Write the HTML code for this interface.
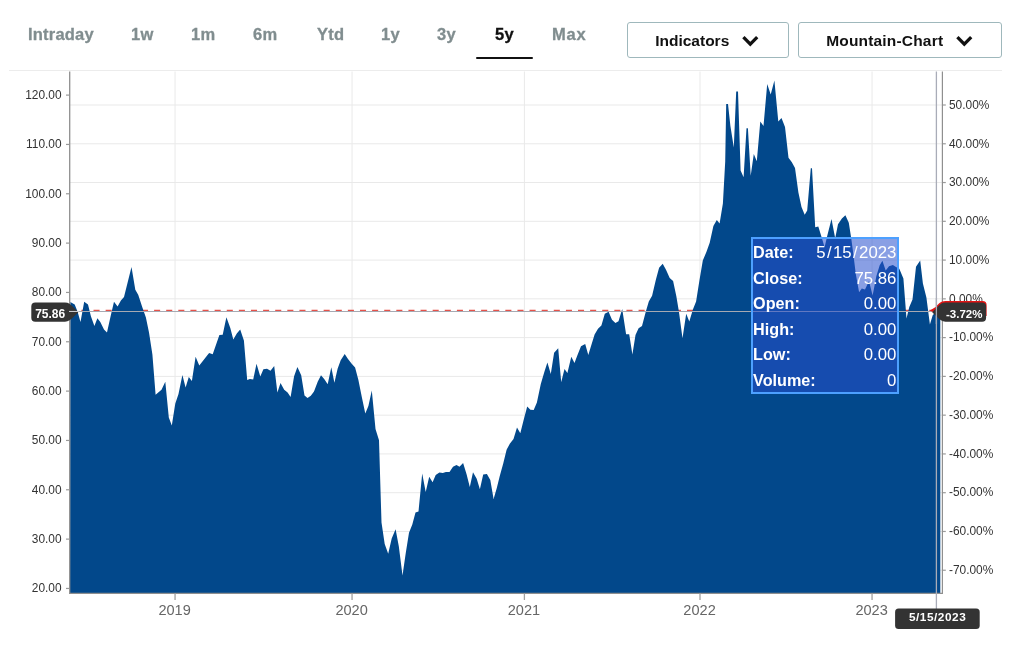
<!DOCTYPE html>
<html><head><meta charset="utf-8"><title>Chart</title>
<style>
html,body{margin:0;padding:0;background:#fff;}
body{width:1023px;height:646px;position:relative;overflow:hidden;-webkit-font-smoothing:antialiased;font-family:"Liberation Sans",sans-serif;}
.tab{position:absolute;top:24px;-webkit-text-stroke:0.3px currentColor;font-weight:bold;font-size:16.5px;color:#808d8f;line-height:20px;white-space:nowrap;letter-spacing:0.2px;}
.tab.act{color:#111;}
.uline{position:absolute;left:476px;top:56.5px;width:57px;height:2.6px;background:#111;border-radius:1.3px;}
.hr{position:absolute;left:8.5px;top:70px;width:993.5px;height:1.4px;background:#ececec;}
.btn{position:absolute;top:22px;height:34px;border:1px solid #9fb8bc;border-radius:3px;box-sizing:content-box;background:#fff;}
.btn span{position:absolute;top:8.5px;font-weight:bold;font-size:15.5px;color:#111;line-height:18px;white-space:nowrap;}
.btn svg{position:absolute;top:11px;}
svg.chart{position:absolute;left:0;top:0;will-change:transform;}
.tab,.btn,.tip{will-change:transform;}
.ax{font-family:"Liberation Sans",sans-serif;font-size:11.9px;fill:#333;}
.yr{font-family:"Liberation Sans",sans-serif;font-size:14.55px;fill:#666;}
.tip{position:absolute;left:750.8px;top:237.3px;width:143.6px;height:151.6px;border:2.4px solid #4da0ff;background:rgba(40,80,205,0.55);color:#fff;font-size:16.2px;line-height:25.5px;padding-top:1.3px;box-sizing:content-box;}
.tip div{position:relative;height:25.5px;}
.tip b{position:absolute;left:0.1px;top:0;}
.tip i{position:absolute;right:0.2px;top:0;font-style:normal;font-size:16.8px;}
.tip i u{text-decoration:none;padding:0 1.4px;}
.lab{position:absolute;background:#333;color:#fff;font-weight:bold;font-size:11px;line-height:19px;text-align:center;border-radius:4px;}
</style></head><body>
<div class="tab" style="left:28px">Intraday</div>
<div class="tab" style="left:131px">1w</div>
<div class="tab" style="left:191px">1m</div>
<div class="tab" style="left:253.3px">6m</div>
<div class="tab" style="left:316.6px">Ytd</div>
<div class="tab" style="left:381.3px">1y</div>
<div class="tab" style="left:437.3px">3y</div>
<div class="tab act" style="left:494.7px">5y</div>
<div class="tab" style="left:552.3px;letter-spacing:0.8px">Max</div>
<div class="uline"></div>
<div class="hr"></div>
<div class="btn" style="left:627px;width:160px;"><span style="left:27.2px">Indicators</span>
<svg style="left:112px" width="22" height="16" viewBox="0 0 22 16"><path d="M3.4 3.2 L10.3 10.1 L17.2 3.2" fill="none" stroke="#111" stroke-width="3.3"/></svg></div>
<div class="btn" style="left:798px;width:202.2px;"><span style="left:27.2px;letter-spacing:0.18px">Mountain-Chart</span>
<svg style="left:155px" width="22" height="16" viewBox="0 0 22 16"><path d="M3.4 3.2 L10.3 10.1 L17.2 3.2" fill="none" stroke="#111" stroke-width="3.3"/></svg></div>
<svg class="chart" width="1023" height="646" viewBox="0 0 1023 646">
<line x1="175.05" y1="71.5" x2="175.05" y2="593" stroke="#e9e9e9" stroke-width="1"/>
<line x1="352.05" y1="71.5" x2="352.05" y2="593" stroke="#e9e9e9" stroke-width="1"/>
<line x1="524.4" y1="71.5" x2="524.4" y2="593" stroke="#e9e9e9" stroke-width="1"/>
<line x1="700.0" y1="71.5" x2="700.0" y2="593" stroke="#e9e9e9" stroke-width="1"/>
<line x1="872.05" y1="71.5" x2="872.05" y2="593" stroke="#e9e9e9" stroke-width="1"/>
<line x1="70" y1="105.00" x2="942" y2="105.00" stroke="#e9e9e9" stroke-width="1"/>
<line x1="70" y1="143.77" x2="942" y2="143.77" stroke="#e9e9e9" stroke-width="1"/>
<line x1="70" y1="182.54" x2="942" y2="182.54" stroke="#e9e9e9" stroke-width="1"/>
<line x1="70" y1="221.31" x2="942" y2="221.31" stroke="#e9e9e9" stroke-width="1"/>
<line x1="70" y1="260.08" x2="942" y2="260.08" stroke="#e9e9e9" stroke-width="1"/>
<line x1="70" y1="298.85" x2="942" y2="298.85" stroke="#e9e9e9" stroke-width="1"/>
<line x1="70" y1="337.62" x2="942" y2="337.62" stroke="#e9e9e9" stroke-width="1"/>
<line x1="70" y1="376.39" x2="942" y2="376.39" stroke="#e9e9e9" stroke-width="1"/>
<line x1="70" y1="415.16" x2="942" y2="415.16" stroke="#e9e9e9" stroke-width="1"/>
<line x1="70" y1="453.93" x2="942" y2="453.93" stroke="#e9e9e9" stroke-width="1"/>
<line x1="70" y1="492.70" x2="942" y2="492.70" stroke="#e9e9e9" stroke-width="1"/>
<line x1="70" y1="531.47" x2="942" y2="531.47" stroke="#e9e9e9" stroke-width="1"/>
<line x1="70" y1="570.24" x2="942" y2="570.24" stroke="#e9e9e9" stroke-width="1"/>
<line x1="69.3" y1="310.35" x2="942" y2="310.35" stroke="#e6524a" stroke-width="1.35" stroke-dasharray="6.056 6.056"/>
<path d="M70,593 L70.3,302.0 L74.7,304.6 L77.6,311.8 L80.5,322.0 L84.2,301.8 L88.0,304.4 L90.9,316.2 L94.4,325.9 L97.4,318.2 L100.3,322.0 L104.0,329.4 L107.0,332.4 L110.6,316.2 L114.0,301.8 L117.6,306.5 L120.9,300.6 L124.0,297.0 L131.5,267.0 L135.3,289.7 L138.2,294.7 L142.4,307.4 L145.9,317.6 L149.0,332.4 L152.4,354.4 L155.6,394.7 L161.5,389.7 L165.3,381.8 L168.8,417.6 L171.8,425.6 L175.3,403.5 L178.5,394.0 L182.4,375.0 L185.6,387.4 L188.8,377.0 L191.9,380.9 L195.6,356.7 L199.3,365.4 L209.1,353.0 L212.7,354.3 L219.4,334.9 L222.7,334.8 L226.4,317.3 L230.3,327.9 L233.3,339.6 L236.8,333.5 L240.2,329.4 L243.9,340.5 L247.2,379.9 L249.9,379.0 L253.2,379.6 L256.5,363.8 L260.3,376.6 L263.4,369.3 L267.0,368.8 L270.5,370.8 L274.2,366.0 L277.4,392.4 L280.5,383.1 L284.2,389.8 L287.6,392.4 L290.6,397.0 L294.1,376.2 L297.4,366.9 L301.2,375.3 L304.5,395.4 L307.5,398.1 L310.8,395.7 L314.0,391.4 L317.7,381.8 L321.0,375.3 L324.2,379.0 L327.7,384.2 L331.3,367.3 L334.4,382.7 L337.6,368.8 L340.7,360.2 L344.7,353.9 L348.0,359.1 L351.7,363.8 L355.1,367.5 L358.4,379.9 L361.9,397.6 L365.3,413.4 L368.4,405.9 L371.8,390.5 L375.5,429.1 L379.0,440.3 L381.5,522.4 L384.7,544.0 L388.2,553.8 L391.7,538.6 L395.6,529.3 L398.8,546.2 L402.5,575.5 L405.8,552.7 L409.0,532.8 L412.3,524.5 L415.5,512.6 L418.5,511.5 L422.2,473.6 L425.7,492.0 L429.2,476.8 L432.6,482.3 L435.7,475.1 L439.4,472.5 L442.8,472.9 L445.9,472.1 L449.5,472.1 L453.0,466.7 L456.5,464.9 L459.5,466.7 L463.1,463.0 L466.5,474.0 L469.8,487.0 L473.0,472.3 L476.7,478.8 L479.9,489.2 L483.2,474.5 L486.9,474.0 L490.3,480.1 L493.6,499.0 L496.8,488.1 L499.7,476.2 L503.3,463.2 L506.6,449.8 L509.8,443.7 L513.5,438.9 L517.0,427.4 L520.3,433.3 L523.7,419.8 L527.2,406.4 L530.4,409.7 L533.7,410.1 L536.9,402.5 L540.8,384.0 L544.4,371.8 L547.4,362.4 L550.8,374.0 L554.1,352.7 L558.2,348.3 L561.2,382.3 L564.5,368.9 L567.4,373.1 L571.3,356.8 L574.5,362.9 L577.6,354.7 L581.0,346.2 L585.2,344.0 L588.3,355.1 L591.2,345.4 L594.6,334.6 L598.0,328.8 L601.4,325.4 L604.8,313.8 L608.6,311.8 L612.0,319.8 L615.4,322.9 L618.5,321.2 L622.2,309.0 L626.1,334.3 L629.2,334.3 L632.4,354.4 L635.5,335.1 L638.6,328.3 L642.0,326.1 L645.7,312.1 L648.8,301.6 L652.1,295.7 L655.8,279.9 L659.1,267.8 L662.7,263.8 L666.0,269.7 L669.7,278.1 L673.1,280.9 L676.3,296.0 L678.9,311.4 L682.5,338.3 L686.2,313.7 L689.3,321.6 L692.9,309.5 L696.1,301.5 L699.5,279.9 L702.8,260.4 L706.4,252.0 L709.7,242.8 L713.4,226.0 L716.8,219.9 L719.6,223.6 L722.9,203.5 L725.2,161.7 L726.2,104.1 L728.0,104.1 L730.4,125.9 L733.8,147.6 L736.2,91.6 L738.0,91.6 L740.6,170.4 L743.6,177.3 L746.5,128.3 L747.9,128.3 L750.7,175.8 L753.8,154.1 L756.8,161.3 L760.3,121.6 L763.5,125.9 L767.2,84.1 L770.7,94.5 L774.4,80.4 L778.3,121.6 L781.5,117.9 L785.0,127.0 L788.5,157.8 L791.7,162.1 L795.0,168.0 L798.4,192.5 L801.5,207.0 L804.7,214.8 L807.2,210.4 L810.8,168.3 L812.0,168.3 L815.2,227.3 L818.3,226.6 L821.7,237.4 L824.6,247.2 L827.2,235.9 L831.5,219.1 L835.2,238.2 L838.0,224.2 L841.9,218.5 L845.4,215.3 L848.8,222.7 L851.3,238.7 L853.1,252.3 L855.8,273.9 L859.1,292.3 L861.8,288.5 L865.0,289.6 L869.0,281.0 L872.6,295.6 L876.4,276.1 L879.7,265.3 L882.4,260.7 L885.7,270.5 L889.0,266.2 L892.9,265.0 L896.0,267.0 L899.3,268.8 L903.4,278.6 L906.5,318.5 L909.3,307.1 L912.5,299.4 L916.0,266.7 L920.2,260.4 L922.9,283.4 L926.4,297.4 L929.9,324.5 L932.7,315.2 L936.5,311.3 L940.3,311.3 L940.3,593 Z" fill="#02488b"/>
<line x1="69.7" y1="71.5" x2="69.7" y2="593.9" stroke="#8f8f8f" stroke-width="1.3"/>
<line x1="942.4" y1="71.5" x2="942.4" y2="593.9" stroke="#8f8f8f" stroke-width="1.2"/>
<line x1="69" y1="593.35" x2="943" y2="593.35" stroke="#8f8f8f" stroke-width="1.1"/>
<line x1="66" y1="95.10" x2="69.2" y2="95.10" stroke="#9a9a9a" stroke-width="1.2"/>
<text x="61.6" y="98.85" text-anchor="end" class="ax">120.00</text>
<line x1="66" y1="144.44" x2="69.2" y2="144.44" stroke="#9a9a9a" stroke-width="1.2"/>
<text x="61.6" y="148.19" text-anchor="end" class="ax">110.00</text>
<line x1="66" y1="193.77" x2="69.2" y2="193.77" stroke="#9a9a9a" stroke-width="1.2"/>
<text x="61.6" y="197.52" text-anchor="end" class="ax">100.00</text>
<line x1="66" y1="243.11" x2="69.2" y2="243.11" stroke="#9a9a9a" stroke-width="1.2"/>
<text x="61.6" y="246.86" text-anchor="end" class="ax">90.00</text>
<line x1="66" y1="292.44" x2="69.2" y2="292.44" stroke="#9a9a9a" stroke-width="1.2"/>
<text x="61.6" y="296.19" text-anchor="end" class="ax">80.00</text>
<line x1="66" y1="341.77" x2="69.2" y2="341.77" stroke="#9a9a9a" stroke-width="1.2"/>
<text x="61.6" y="345.52" text-anchor="end" class="ax">70.00</text>
<line x1="66" y1="391.11" x2="69.2" y2="391.11" stroke="#9a9a9a" stroke-width="1.2"/>
<text x="61.6" y="394.86" text-anchor="end" class="ax">60.00</text>
<line x1="66" y1="440.45" x2="69.2" y2="440.45" stroke="#9a9a9a" stroke-width="1.2"/>
<text x="61.6" y="444.20" text-anchor="end" class="ax">50.00</text>
<line x1="66" y1="489.78" x2="69.2" y2="489.78" stroke="#9a9a9a" stroke-width="1.2"/>
<text x="61.6" y="493.53" text-anchor="end" class="ax">40.00</text>
<line x1="66" y1="539.12" x2="69.2" y2="539.12" stroke="#9a9a9a" stroke-width="1.2"/>
<text x="61.6" y="542.87" text-anchor="end" class="ax">30.00</text>
<line x1="66" y1="588.45" x2="69.2" y2="588.45" stroke="#9a9a9a" stroke-width="1.2"/>
<text x="61.6" y="592.20" text-anchor="end" class="ax">20.00</text>
<line x1="943" y1="105.00" x2="945.8" y2="105.00" stroke="#9a9a9a" stroke-width="1.2"/>
<text x="949.0" y="108.75" class="ax">50.00%</text>
<line x1="943" y1="143.77" x2="945.8" y2="143.77" stroke="#9a9a9a" stroke-width="1.2"/>
<text x="949.0" y="147.52" class="ax">40.00%</text>
<line x1="943" y1="182.54" x2="945.8" y2="182.54" stroke="#9a9a9a" stroke-width="1.2"/>
<text x="949.0" y="186.29" class="ax">30.00%</text>
<line x1="943" y1="221.31" x2="945.8" y2="221.31" stroke="#9a9a9a" stroke-width="1.2"/>
<text x="949.0" y="225.06" class="ax">20.00%</text>
<line x1="943" y1="260.08" x2="945.8" y2="260.08" stroke="#9a9a9a" stroke-width="1.2"/>
<text x="949.0" y="263.83" class="ax">10.00%</text>
<line x1="943" y1="298.85" x2="945.8" y2="298.85" stroke="#9a9a9a" stroke-width="1.2"/>
<text x="949.0" y="302.60" class="ax">0.00%</text>
<line x1="943" y1="337.62" x2="945.8" y2="337.62" stroke="#9a9a9a" stroke-width="1.2"/>
<text x="949.0" y="341.37" class="ax">-10.00%</text>
<line x1="943" y1="376.39" x2="945.8" y2="376.39" stroke="#9a9a9a" stroke-width="1.2"/>
<text x="949.0" y="380.14" class="ax">-20.00%</text>
<line x1="943" y1="415.16" x2="945.8" y2="415.16" stroke="#9a9a9a" stroke-width="1.2"/>
<text x="949.0" y="418.91" class="ax">-30.00%</text>
<line x1="943" y1="453.93" x2="945.8" y2="453.93" stroke="#9a9a9a" stroke-width="1.2"/>
<text x="949.0" y="457.68" class="ax">-40.00%</text>
<line x1="943" y1="492.70" x2="945.8" y2="492.70" stroke="#9a9a9a" stroke-width="1.2"/>
<text x="949.0" y="496.45" class="ax">-50.00%</text>
<line x1="943" y1="531.47" x2="945.8" y2="531.47" stroke="#9a9a9a" stroke-width="1.2"/>
<text x="949.0" y="535.22" class="ax">-60.00%</text>
<line x1="943" y1="570.24" x2="945.8" y2="570.24" stroke="#9a9a9a" stroke-width="1.2"/>
<text x="949.0" y="573.99" class="ax">-70.00%</text>
<line x1="175.05" y1="593.6" x2="175.05" y2="600" stroke="#a0a0a0" stroke-width="1.3"/>
<text x="174.60000000000002" y="615.45" text-anchor="middle" class="yr">2019</text>
<line x1="352.05" y1="593.6" x2="352.05" y2="600" stroke="#a0a0a0" stroke-width="1.3"/>
<text x="351.6" y="615.45" text-anchor="middle" class="yr">2020</text>
<line x1="524.4" y1="593.6" x2="524.4" y2="600" stroke="#a0a0a0" stroke-width="1.3"/>
<text x="523.9499999999999" y="615.45" text-anchor="middle" class="yr">2021</text>
<line x1="700.0" y1="593.6" x2="700.0" y2="600" stroke="#a0a0a0" stroke-width="1.3"/>
<text x="699.55" y="615.45" text-anchor="middle" class="yr">2022</text>
<line x1="872.05" y1="593.6" x2="872.05" y2="600" stroke="#a0a0a0" stroke-width="1.3"/>
<text x="871.5999999999999" y="615.45" text-anchor="middle" class="yr">2023</text>
<line x1="69" y1="311.45" x2="942" y2="311.45" stroke="#a6a9b2" stroke-width="1.05"/>
<line x1="936.4" y1="71.5" x2="936.4" y2="609" stroke="#a9acb8" stroke-width="1.3"/>
</svg>
<div class="tip">
<div><b>Date:</b><i>5<u>/</u>15<u>/</u>2023</i></div>
<div><b>Close:</b><i>75.86</i></div>
<div><b>Open:</b><i>0.00</i></div>
<div><b>High:</b><i>0.00</i></div>
<div><b>Low:</b><i>0.00</i></div>
<div><b>Volume:</b><i>0</i></div>
</div>
<svg class="chart" width="1023" height="646" viewBox="0 0 1023 646">
<path d="M35.3,302.6 H65 C68.5,302.6 70.9,304.8 72.9,306.8 L78.3,312.15 L72.9,317.5 C70.9,319.5 68.5,321.7 65,321.7 H35.3 Q31.3,321.7 31.3,317.7 V306.6 Q31.3,302.6 35.3,302.6 Z" fill="#333"/>
<text x="50.2" y="317.6" text-anchor="middle" font-family="Liberation Sans, sans-serif" font-weight="bold" font-size="12" fill="#fff">75.86</text>
<path d="M945.4,300.9 H982.6 Q986.6,300.9 986.6,304.9 V316 H940 L932.5,311.7 L929.85,310.45 L935.7,307.0 C938,304.3 940.4,301.0 945.4,300.9 Z" fill="#e31414"/>
<path d="M945.5,302.6 H982.1 Q986.1,302.6 986.1,306.6 V317.7 Q986.1,321.7 982.1,321.7 H945.5 C942,321.7 939.6,319.5 937.6,317.5 L932.2,312.15 L937.6,306.8 C939.6,304.8 942,302.6 945.5,302.6 Z" fill="#333"/>
<text x="964.2" y="317.6" text-anchor="middle" font-family="Liberation Sans, sans-serif" font-weight="bold" font-size="11.5" fill="#fff">-3.72%</text>
<line x1="69" y1="311.45" x2="79" y2="311.45" stroke="#c9cbd0" stroke-width="1.05"/>
<line x1="936.4" y1="298" x2="936.4" y2="324" stroke="#a9acb8" stroke-width="1.3"/>
<rect x="895.1" y="608.4" width="84.6" height="20.6" rx="3.5" fill="#333"/>
<text x="937.6" y="621.35" text-anchor="middle" font-family="Liberation Sans, sans-serif" font-weight="bold" font-size="11.8" letter-spacing="0.55" fill="#fff">5/15/2023</text>
</svg>
</body></html>
